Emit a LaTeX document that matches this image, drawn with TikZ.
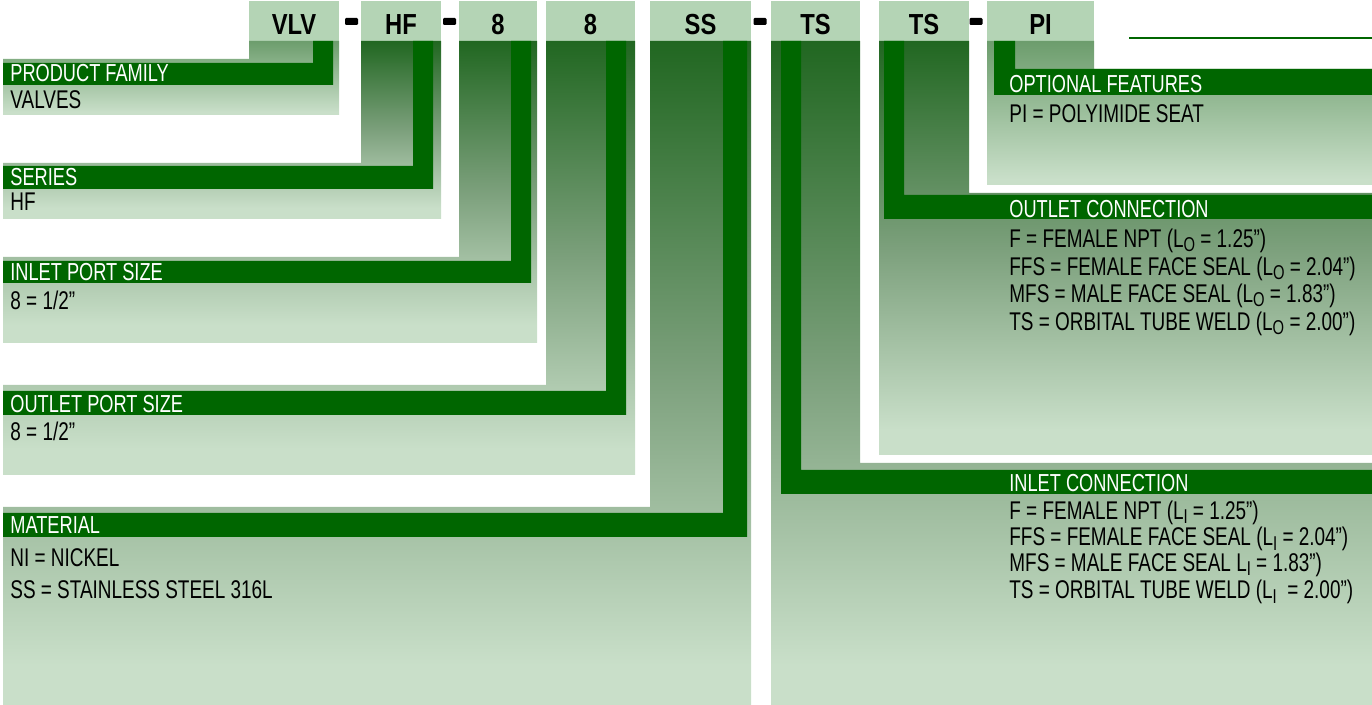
\documentclass[tikz,border=0pt]{standalone}
\usepackage{fontspec}
\setmainfont{Liberation Sans}[FakeStretch=0.74]
\newfontfamily\codefont{Liberation Sans}[FakeStretch=0.82]
\usepackage{tikz}
\definecolor{codegreen}{RGB}{180,212,181}
\definecolor{bargreen}{RGB}{0,102,0}
\definecolor{fadedark}{RGB}{33,103,33}
\definecolor{fadegray}{RGB}{124,160,124}
\definecolor{fadelight}{RGB}{201,223,201}
\colorlet{fademid}{fadedark!55!fadelight}
\pgfdeclareverticalshading{panelfade}{100bp}{%
    color(0bp)=(fadelight); color(28bp)=(fadelight);
    color(50bp)=(fadegray);
    color(75bp)=(fadedark); color(100bp)=(fadedark)}
\pgfdeclareverticalshading{panelfadeshort}{100bp}{%
    color(0bp)=(fadelight); color(27bp)=(fadelight);
    color(75bp)=(fademid); color(100bp)=(fademid)}
\newcommand{\lsub}[1]{L\raisebox{-2pt}{\fontsize{10}{10}\selectfont #1}}
\tikzset{
    codebox/.style={fill=codegreen, draw=none},
    codetext/.style={anchor=base, inner sep=0pt, font=\codefont\fontsize{14.5}{14.5}\selectfont\bfseries},
    dashmark/.style={fill=black, inner sep=0pt, minimum width=6.5pt, minimum height=3.5pt, rounded corners=0.6pt},
    panel/.style={shade, shading=panelfade, draw=none},
    barfill/.style={fill=bargreen, draw=none},
    bartext/.style={anchor=base west, inner sep=0pt, text=white, font=\fontsize{12.3}{12.3}\selectfont},
    optext/.style={anchor=base west, inner sep=0pt, font=\fontsize{12.8}{12.8}\selectfont},
}

\begin{document}
\begin{tikzpicture}[x=0.5pt, y=-0.5pt]
    \useasboundingbox (0,0) rectangle (1372,705);

    % code boxes
    \fill[codebox] (249,1) rectangle (339,41);
    \node[codetext] (vlv) at (294,35) {VLV};
    \node[dashmark] (dashone) at (351.5,21.5) {};
    \fill[codebox] (361,1) rectangle (441,41);
    \node[codetext] (hf) at (401,35) {HF};
    \node[dashmark] (dashtwo) at (449.5,21.5) {};
    \fill[codebox] (459,1) rectangle (537,41);
    \node[codetext] (inport) at (498,35) {8};
    \fill[codebox] (546,1) rectangle (635,41);
    \node[codetext] (outport) at (590.5,35) {8};
    \fill[codebox] (650,1) rectangle (751,41);
    \node[codetext] (ss) at (700.5,35) {SS};
    \node[dashmark] (dashthree) at (760,21.5) {};
    \fill[codebox] (771,1) rectangle (860,41);
    \node[codetext] (tsin) at (815.5,35) {TS};
    \fill[codebox] (879,1) rectangle (969,41);
    \node[codetext] (tsout) at (924,35) {TS};
    \node[dashmark] (dashfour) at (976,21.5) {};
    \fill[codebox] (987,1) rectangle (1094,41);
    \node[codetext] (pi) at (1040.5,35) {PI};
    \draw[bargreen, line width=0.6pt] (1129,38) -- (1372,38);

    % product family
    \path[panel, shading=panelfadeshort] (249,41) -- (339,41) -- (339,115) -- (3,115) -- (3,59) -- (249,59) -- cycle;
    \fill[barfill] (313,41) -- (333,41) -- (333,85) -- (3,85) -- (3,63) -- (313,63) -- cycle;
    \node[bartext] (famtitle) at (10,82) {PRODUCT FAMILY};
    \node[optext] (famtext) at (10,109) {VALVES};

    % series
    \path[panel] (361,41) -- (441,41) -- (441,219) -- (3,219) -- (3,163) -- (361,163) -- cycle;
    \fill[barfill] (413,41) -- (433,41) -- (433,189) -- (3,189) -- (3,166) -- (413,166) -- cycle;
    \node[bartext] (sertitle) at (10,186) {SERIES};
    \node[optext] (sertext) at (10,211) {HF};

    % inlet port size
    \path[panel] (459,41) -- (537,41) -- (537,343) -- (3,343) -- (3,257) -- (459,257) -- cycle;
    \fill[barfill] (511,41) -- (531,41) -- (531,283) -- (3,283) -- (3,261) -- (511,261) -- cycle;
    \node[bartext] (inporttitle) at (10,281) {INLET PORT SIZE};
    \node[optext] (inporttext) at (10,310) {8 = 1/2”};

    % outlet port size
    \path[panel] (546,41) -- (635,41) -- (635,475) -- (3,475) -- (3,385) -- (546,385) -- cycle;
    \fill[barfill] (606,41) -- (626,41) -- (626,415) -- (3,415) -- (3,391) -- (606,391) -- cycle;
    \node[bartext] (outporttitle) at (10,413) {OUTLET PORT SIZE};
    \node[optext] (outporttext) at (10,441) {8 = 1/2”};

    % material
    \path[panel] (650,41) -- (751,41) -- (751,705) -- (3,705) -- (3,507) -- (650,507) -- cycle;
    \fill[barfill] (723,41) -- (747,41) -- (747,537) -- (3,537) -- (3,513) -- (723,513) -- cycle;
    \node[bartext] (mattitle) at (10,534) {MATERIAL};
    \node[optext] (matni) at (10,567) {NI = NICKEL};
    \node[optext] (matss) at (10,599) {SS = STAINLESS STEEL 316L};

    % optional features
    \path[panel, shading=panelfadeshort] (987,41) -- (1094,41) -- (1094,69) -- (1372,69) -- (1372,185) -- (987,185) -- cycle;
    \fill[barfill] (994,41) -- (1015,41) -- (1015,69) -- (1372,69) -- (1372,95) -- (994,95) -- cycle;
    \node[bartext] (opttitle) at (1009,93) {OPTIONAL FEATURES};
    \node[optext] (opttext) at (1009,123) {PI = POLYIMIDE SEAT};

    % outlet connection
    \path[panel] (879,41) -- (969,41) -- (969,193) -- (1372,193) -- (1372,455) -- (879,455) -- cycle;
    \fill[barfill] (884,41) -- (904,41) -- (904,195) -- (1372,195) -- (1372,219) -- (884,219) -- cycle;
    \node[bartext] (outtitle) at (1009,218) {OUTLET CONNECTION};
    \node[optext] (outf) at (1009,248) {F = FEMALE NPT (\lsub{O} = 1.25”)};
    \node[optext] (outffs) at (1009,276) {FFS = FEMALE FACE SEAL (\lsub{O} = 2.04”)};
    \node[optext] (outmfs) at (1009,303) {MFS = MALE FACE SEAL (\lsub{O} = 1.83”)};
    \node[optext] (outts) at (1009,331) {TS = ORBITAL TUBE WELD (\lsub{O} = 2.00”)};

    % inlet connection
    \path[panel] (771,41) -- (860,41) -- (860,463) -- (1372,463) -- (1372,705) -- (771,705) -- cycle;
    \fill[barfill] (781,41) -- (801,41) -- (801,470) -- (1372,470) -- (1372,494) -- (781,494) -- cycle;
    \node[bartext] (intitle) at (1009,492) {INLET CONNECTION};
    \node[optext] (inf) at (1009,520) {F = FEMALE NPT (\lsub{I} = 1.25”)};
    \node[optext] (inffs) at (1009,546) {FFS = FEMALE FACE SEAL (\lsub{I} = 2.04”)};
    \node[optext] (inmfs) at (1009,572) {MFS = MALE FACE SEAL \lsub{I} = 1.83”)};
    \node[optext] (ints) at (1009,599) {TS = ORBITAL TUBE WELD (\lsub{I}~ = 2.00”)};
\end{tikzpicture}
\end{document}
